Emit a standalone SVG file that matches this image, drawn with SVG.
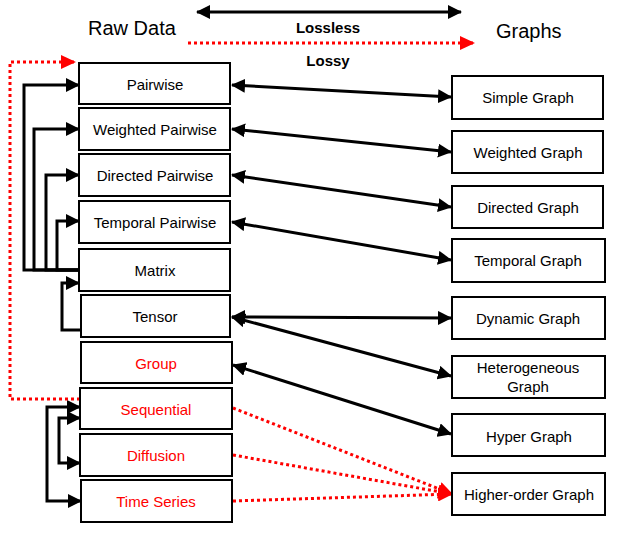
<svg xmlns="http://www.w3.org/2000/svg" width="639" height="548" viewBox="0 0 639 548">
<style>
.box{fill:#fff;stroke:#000;stroke-width:2}
.t{font-family:"Liberation Sans",Arial,sans-serif;font-size:15px;text-anchor:middle;fill:#000}
.r{fill:#ff0000}
.hd{font-family:"Liberation Sans",Arial,sans-serif;font-size:20px;fill:#000}
.b{font-family:"Liberation Sans",Arial,sans-serif;font-size:15px;font-weight:bold;text-anchor:middle;fill:#000}
.c{fill:none;stroke:#000;stroke-width:3}
.d{fill:none;stroke:#ff0000;stroke-width:3;stroke-dasharray:3 3}
</style>
<defs>
<marker id="ah" markerUnits="userSpaceOnUse" markerWidth="14" markerHeight="14" refX="13" refY="7" orient="auto-start-reverse" viewBox="0 0 14 14">
<path d="M0,0 L14,7 L0,14 z" fill="#000"/>
</marker>
<marker id="rh" markerUnits="userSpaceOnUse" markerWidth="15" markerHeight="14" refX="14" refY="7" orient="auto" viewBox="0 0 15 14">
<path d="M0,0 L15,7 L0,14 z" fill="#ff0000"/>
</marker>
</defs>

<g id="legend">
<text class="hd" x="88" y="35">Raw Data</text>
<text class="hd" x="496" y="38">Graphs</text>
<line class="c" x1="197" y1="12" x2="461" y2="12" marker-start="url(#ah)" marker-end="url(#ah)"/>
<text class="b" x="328" y="33">Lossless</text>
<line class="d" x1="188" y1="43" x2="474" y2="43" marker-end="url(#rh)"/>
<text class="b" x="328" y="66">Lossy</text>
</g>

<g id="connectors">
<line class="c" x1="232" y1="85" x2="451" y2="97" marker-start="url(#ah)" marker-end="url(#ah)"/>
<line class="c" x1="232" y1="129" x2="451" y2="152" marker-start="url(#ah)" marker-end="url(#ah)"/>
<line class="c" x1="232" y1="175" x2="451" y2="207" marker-start="url(#ah)" marker-end="url(#ah)"/>
<line class="c" x1="232" y1="222" x2="451" y2="260" marker-start="url(#ah)" marker-end="url(#ah)"/>
<line class="c" x1="232" y1="317" x2="451" y2="318" marker-start="url(#ah)" marker-end="url(#ah)"/>
<line class="c" x1="232" y1="317" x2="451" y2="376" marker-start="url(#ah)" marker-end="url(#ah)"/>
<line class="c" x1="233" y1="365" x2="451" y2="434" marker-start="url(#ah)" marker-end="url(#ah)"/>
<line class="d" x1="233" y1="408" x2="452" y2="494" marker-end="url(#rh)"/>
<line class="d" x1="233" y1="455" x2="452" y2="494" marker-end="url(#rh)"/>
<line class="d" x1="233" y1="501" x2="452" y2="494" marker-end="url(#rh)"/>
<path class="c" d="M79,270 H24 V85 H79" marker-end="url(#ah)"/>
<path class="c" d="M79,270 H34 V129 H79" marker-end="url(#ah)"/>
<path class="c" d="M79,270 H46 V175 H79" marker-end="url(#ah)"/>
<path class="c" d="M79,270 H57 V221 H79" marker-end="url(#ah)"/>
<path class="c" d="M81,330 H62 V283 H79" marker-end="url(#ah)"/>
<path class="c" d="M80,407 H47 V501 H81" marker-start="url(#ah)" marker-end="url(#ah)"/>
<path class="c" d="M80,418 H59 V463 H80" marker-start="url(#ah)" marker-end="url(#ah)"/>
<path class="d" d="M80,399 H10 V62 H75" marker-end="url(#rh)"/>
</g>

<g id="n-pairwise"><rect class="box" x="79" y="63" width="151" height="41"/><text class="t" x="155" y="90">Pairwise</text></g>
<g id="n-weighted-pairwise"><rect class="box" x="79" y="108" width="151" height="42"/><text class="t" x="155" y="135">Weighted Pairwise</text></g>
<g id="n-directed-pairwise"><rect class="box" x="79" y="154" width="151" height="42"/><text class="t" x="155" y="181">Directed Pairwise</text></g>
<g id="n-temporal-pairwise"><rect class="box" x="79" y="201" width="151" height="42"/><text class="t" x="155" y="228">Temporal Pairwise</text></g>
<g id="n-matrix"><rect class="box" x="79" y="249" width="151" height="42"/><text class="t" x="155" y="276">Matrix</text></g>
<g id="n-tensor"><rect class="box" x="81" y="295" width="149" height="42"/><text class="t" x="155" y="322">Tensor</text></g>
<g id="n-group"><rect class="box" x="81" y="342" width="151" height="41"/><text class="t r" x="156" y="369">Group</text></g>
<g id="n-sequential"><rect class="box" x="80" y="388" width="152" height="41"/><text class="t r" x="156" y="415">Sequential</text></g>
<g id="n-diffusion"><rect class="box" x="80" y="434" width="152" height="42"/><text class="t r" x="156" y="461">Diffusion</text></g>
<g id="n-time-series"><rect class="box" x="81" y="480" width="151" height="42"/><text class="t r" x="156" y="507">Time Series</text></g>

<g id="n-simple-graph"><rect class="box" x="452" y="76" width="151" height="43"/><text class="t" x="528" y="103">Simple Graph</text></g>
<g id="n-weighted-graph"><rect class="box" x="452" y="131" width="151" height="42"/><text class="t" x="528" y="158">Weighted Graph</text></g>
<g id="n-directed-graph"><rect class="box" x="452" y="186" width="151" height="42"/><text class="t" x="528" y="213">Directed Graph</text></g>
<g id="n-temporal-graph"><rect class="box" x="452" y="239" width="153" height="43"/><text class="t" x="528" y="266">Temporal Graph</text></g>
<g id="n-dynamic-graph"><rect class="box" x="452" y="297" width="153" height="42"/><text class="t" x="528" y="324">Dynamic Graph</text></g>
<g id="n-heterogeneous-graph"><rect class="box" x="452" y="356" width="153" height="42"/><text class="t" x="528" y="373">Heterogeneous</text><text class="t" x="528" y="392">Graph</text></g>
<g id="n-hyper-graph"><rect class="box" x="452" y="414" width="153" height="42"/><text class="t" x="529" y="442">Hyper Graph</text></g>
<g id="n-higher-order-graph"><rect class="box" x="452" y="473" width="153" height="42"/><text class="t" x="529" y="500">Higher-order Graph</text></g>
</svg>
